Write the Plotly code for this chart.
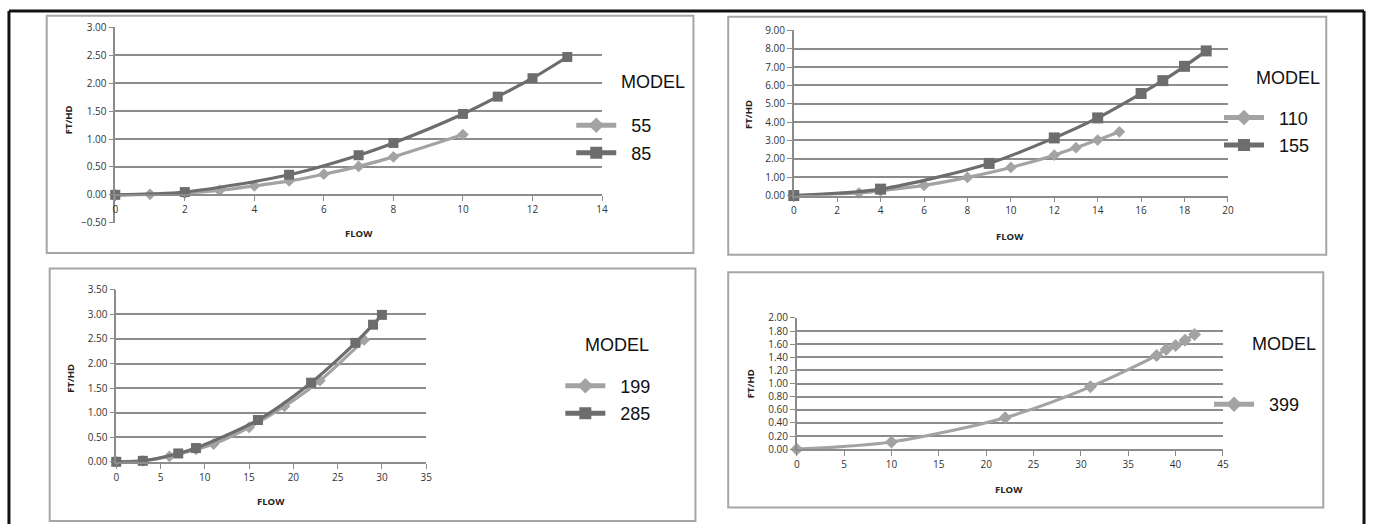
import plotly.graph_objects as go

W, H = 1373, 531

# ---- data ----
flow_55 = [0, 1, 2, 3, 4, 5, 6, 7, 8, 10]
fthd_55 = [0.00, 0.01, 0.03, 0.08, 0.16, 0.25, 0.37, 0.51, 0.68, 1.08]
flow_85 = [0, 2, 5, 7, 8, 10, 11, 12, 13]
fthd_85 = [0.00, 0.05, 0.36, 0.71, 0.93, 1.45, 1.76, 2.09, 2.47]

flow_110 = [0, 3, 4, 6, 8, 10, 12, 13, 14, 15]
fthd_110 = [0.00, 0.14, 0.26, 0.55, 0.99, 1.53, 2.20, 2.61, 3.02, 3.47]
flow_155 = [0, 4, 9, 12, 14, 16, 17, 18, 19]
fthd_155 = [0.00, 0.35, 1.75, 3.14, 4.23, 5.56, 6.26, 7.04, 7.88]

flow_199 = [0, 3, 6, 9, 11, 15, 19, 23, 28]
fthd_199 = [0.00, 0.02, 0.11, 0.25, 0.36, 0.70, 1.13, 1.65, 2.48]
flow_285 = [0, 3, 7, 9, 16, 22, 27, 29, 30]
fthd_285 = [0.00, 0.02, 0.17, 0.28, 0.85, 1.61, 2.42, 2.79, 2.99]

flow_399 = [0, 10, 22, 31, 38, 39, 40, 41, 42]
fthd_399 = [0.00, 0.11, 0.48, 0.95, 1.43, 1.52, 1.58, 1.66, 1.75]

LIGHT = "#a3a3a3"
DARK = "#6d6d6d"
GRID = "#8c8c8c"
TICKFONT = dict(family="Open Sans", size=10, color="#333333")
TITLEFONT = dict(family="Open Sans", size=9.5, color="#222222")
LEGFONT = dict(family="Liberation Sans", size=18, color="#111111")


def px(x):
    return x / W


def py(y):
    return 1 - y / H


# plot areas in pixels: left, right, top, bottom, plus axis ranges
panels = [
    dict(l=113, r=603, t=20, b=221, xr=[0, 14], xd=2, yr=[-0.5, 3.0], yd=0.5),
    dict(l=796, r=1233, t=23, b=193, xr=[0, 20], xd=2, yr=[0, 9], yd=1),
    dict(l=114, r=426, t=290, b=467, xr=[0, 35], xd=5, yr=[0, 3.5], yd=0.5),
    dict(l=799, r=1228, t=319, b=454, xr=[0, 45], xd=5, yr=[0, 2], yd=0.2),
]

fig = go.Figure()

series = [
    (1, flow_55, fthd_55, "55", "diamond", LIGHT, 9, "legend"),
    (1, flow_85, fthd_85, "85", "square", DARK, 10, "legend"),
    (2, flow_110, fthd_110, "110", "diamond", LIGHT, 9, "legend2"),
    (2, flow_155, fthd_155, "155", "square", DARK, 11, "legend2"),
    (3, flow_199, fthd_199, "199", "diamond", LIGHT, 9, "legend3"),
    (3, flow_285, fthd_285, "285", "square", DARK, 10, "legend3"),
    (4, flow_399, fthd_399, "399", "diamond", LIGHT, 10, "legend4"),
]

for k, xs, ys, name, sym, col, size, leg in series:
    sfx = "" if k == 1 else str(k)
    fig.add_trace(go.Scatter(
        x=xs, y=ys, name="\u00a0\u00a0" + name, mode="lines+markers",
        line=dict(color=col, width=3.2, shape="spline", smoothing=0.8),
        marker=dict(symbol=sym, size=size, color=col),
        xaxis="x" + sfx, yaxis="y" + sfx, legend=leg, legendgroup=name,
        cliponaxis=False,
    ))

layout = dict(
    width=W, height=H, margin=dict(l=0, r=0, t=0, b=0),
    paper_bgcolor="white", plot_bgcolor="white", showlegend=True,
)

for i, p in enumerate(panels, start=1):
    sfx = "" if i == 1 else str(i)
    ydom = [py(p["b"]), py(p["t"])]
    xaxis = dict(
        domain=[px(p["l"]), px(p["r"])], range=p["xr"], dtick=p["xd"], tick0=0,
        showgrid=False, zeroline=False, showline=True, linecolor=GRID, linewidth=1.5,
        ticks="outside", ticklen=5, tickcolor=GRID, tickfont=TICKFONT,
        anchor="y" + sfx, fixedrange=True,
    )
    if p["yr"][0] < 0:
        # horizontal axis crosses at zero
        frac = (0 - p["yr"][0]) / (p["yr"][1] - p["yr"][0])
        xaxis["anchor"] = "free"
        xaxis["position"] = ydom[0] + frac * (ydom[1] - ydom[0])
    layout["xaxis" + sfx] = xaxis
    layout["yaxis" + sfx] = dict(
        domain=ydom, range=p["yr"], dtick=p["yd"], tick0=0, tickformat=".2f",
        showgrid=True, gridcolor=GRID, gridwidth=1.5, zeroline=False,
        showline=True, linecolor=GRID, linewidth=1.5,
        ticks="outside", ticklen=5, tickcolor=GRID, tickfont=TICKFONT,
        anchor="x" + sfx, fixedrange=True,
    )

# legends, one per chart
leg_pos = [(572, 102), (1224, 94), (561, 370), (1214, 389)]
for i, (lx, ly) in enumerate(leg_pos, start=1):
    key = "legend" if i == 1 else "legend%d" % i
    layout[key] = dict(
        x=px(lx), y=py(ly), xanchor="left", yanchor="top", itemsizing="constant",
        bgcolor="rgba(0,0,0,0)", font=LEGFONT, tracegroupgap=1, itemwidth=40,
    )

fig.update_layout(**layout)

# panel frames and outer border
frames = [(44, 8, 695, 252), (730, 9, 1332, 254), (47, 268, 697, 528), (730, 272, 1329, 514)]
for x0, y0, x1, y1 in frames:
    fig.add_shape(type="rect", xref="paper", yref="paper", x0=px(x0), x1=px(x1),
                  y0=py(y1), y1=py(y0), line=dict(color="#a6a6a6", width=2))
for x0, y0, x1, y1 in [(6, 3, 1370, 3), (6, 3, 6, 531), (1370, 3, 1370, 531)]:
    fig.add_shape(type="line", xref="paper", yref="paper", x0=px(x0), x1=px(x1),
                  y0=py(y0), y1=py(y1), line=dict(color="#111111", width=3))

# text: axis titles and legend headings
titles = [(358, 232, 66, 115, 620, 76), (1014, 235, 751, 110, 1259, 72),
          (270, 508, 68, 381, 584, 347), (1013, 495, 752, 387, 1255, 346)]
for fx, fy, hx, hy, mx, my in titles:
    fig.add_annotation(x=px(fx), y=py(fy), xref="paper", yref="paper", text="<b>FLOW</b>",
                       showarrow=False, font=TITLEFONT, xanchor="center", yanchor="middle")
    fig.add_annotation(x=px(hx), y=py(hy), xref="paper", yref="paper", text="<b>FT/HD</b>",
                       showarrow=False, font=TITLEFONT, textangle=-90,
                       xanchor="center", yanchor="middle")
    fig.add_annotation(x=px(mx), y=py(my), xref="paper", yref="paper", text="MODEL",
                       showarrow=False, xanchor="left", yanchor="middle", font=LEGFONT)

# the page body has a default margin; drop it so the figure fills the window
fig.write_html("out.html", config={"displayModeBar": False},
               post_script="document.body.style.margin='0px';")
